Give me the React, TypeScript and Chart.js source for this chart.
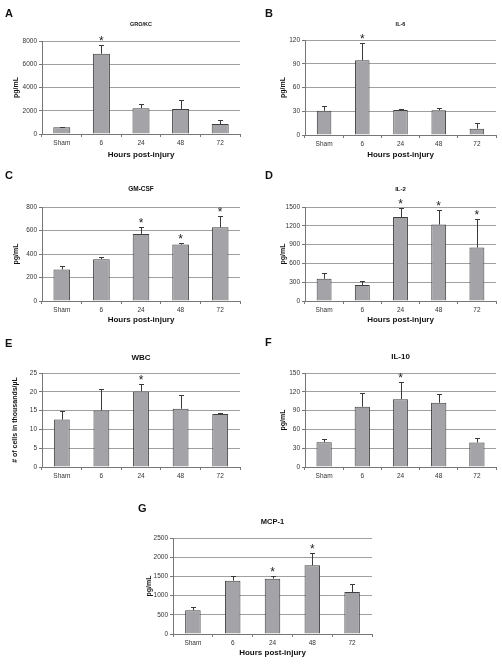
import React, { useEffect, useRef } from "react";
import { Chart, registerables } from "chart.js";
Chart.register(...registerables);

const FONT = '"Liberation Sans", Arial, Helvetica, sans-serif';
Chart.defaults.font.family = FONT;

// ---------- data ----------
const categories = ["Sham", "6", "24", "48", "72"];

const groKcValues = [590, 6900, 2220, 2140, 850];
const groKcErrors = [40, 730, 400, 790, 370];
const groKcStars = [1];

const il6Values = [30.7, 94.3, 31.6, 31.2, 8];
const il6Errors = [6.3, 21.5, 1.2, 2.5, 7.6];
const il6Stars = [1];

const gmCsfValues = [268, 356, 571, 480, 627];
const gmCsfErrors = [34, 20, 62, 17, 94];
const gmCsfStars = [2, 3, 4];

const il2Values = [355, 254, 1341, 1219, 853];
const il2Errors = [85, 59, 143, 238, 461];
const il2Stars = [2, 3, 4];

const wbcValues = [12.6, 15.0, 20.1, 15.5, 14.1];
const wbcErrors = [2.2, 5.7, 2.0, 3.6, 0.2];
const wbcStars = [2];

const il10Values = [39.6, 96.1, 108.3, 102.5, 39.1];
const il10Errors = [4.8, 21.2, 28, 13.7, 6.9];
const il10Stars = [2];

const mcp1Values = [616, 1389, 1441, 1788, 1094];
const mcp1Errors = [87, 130, 69, 330, 208];
const mcp1Stars = [2, 3];

const yMaxes = [8000, 120, 800, 1500, 25, 150, 2500];
const ySteps = [2000, 30, 200, 300, 5, 30, 500];

// ---------- panel layout ----------
type Panel = {
  letter: string;
  title: string;
  yTitle: string;
  xTitle: string | null;
  values: number[];
  errors: number[];
  stars: number[];
  yMax: number;
  yStep: number;
  canvas: { x: number; y: number; w: number; h: number };
  plot: { l: number; t: number; r: number; b: number };
  titleY: number;
  titleSize: number;
  letterPos: { x: number; y: number };
  yTitleX: number;
  xTitleY: number;
  barPct: number;
};

const panels: Panel[] = [
  {
    letter: "A", title: "GRO/KC", yTitle: "pg/mL", xTitle: "Hours post-injury",
    values: groKcValues, errors: groKcErrors, stars: groKcStars, yMax: yMaxes[0], yStep: ySteps[0],
    canvas: { x: 0, y: 0, w: 251, h: 160 }, plot: { l: 42, t: 41, r: 240, b: 134 },
    titleY: 24, titleSize: 5.5, letterPos: { x: 5, y: 17 }, yTitleX: 16, xTitleY: 155, barPct: 0.43,
  },
  {
    letter: "B", title: "IL-6", yTitle: "pg/mL", xTitle: "Hours post-injury",
    values: il6Values, errors: il6Errors, stars: il6Stars, yMax: yMaxes[1], yStep: ySteps[1],
    canvas: { x: 251, y: 0, w: 251, h: 160 }, plot: { l: 54, t: 40, r: 245, b: 135 },
    titleY: 24, titleSize: 5.5, letterPos: { x: 14, y: 17 }, yTitleX: 32.5, xTitleY: 155, barPct: 0.38,
  },
  {
    letter: "C", title: "GM-CSF", yTitle: "pg/mL", xTitle: "Hours post-injury",
    values: gmCsfValues, errors: gmCsfErrors, stars: gmCsfStars, yMax: yMaxes[2], yStep: ySteps[2],
    canvas: { x: 0, y: 160, w: 251, h: 168 }, plot: { l: 42, t: 47, r: 240, b: 141 },
    titleY: 29, titleSize: 6.5, letterPos: { x: 5, y: 19 }, yTitleX: 16, xTitleY: 160, barPct: 0.42,
  },
  {
    letter: "D", title: "IL-2", yTitle: "pg/mL", xTitle: "Hours post-injury",
    values: il2Values, errors: il2Errors, stars: il2Stars, yMax: yMaxes[3], yStep: ySteps[3],
    canvas: { x: 251, y: 160, w: 251, h: 168 }, plot: { l: 54, t: 47, r: 245, b: 141 },
    titleY: 29, titleSize: 6, letterPos: { x: 14, y: 19 }, yTitleX: 32, xTitleY: 160, barPct: 0.39,
  },
  {
    letter: "E", title: "WBC", yTitle: "# of cells in thousands/\u00b5L", xTitle: null,
    values: wbcValues, errors: wbcErrors, stars: wbcStars, yMax: yMaxes[4], yStep: ySteps[4],
    canvas: { x: 0, y: 320, w: 251, h: 165 }, plot: { l: 42, t: 53, r: 240, b: 147 },
    titleY: 38, titleSize: 8, letterPos: { x: 5, y: 27 }, yTitleX: 15.5, xTitleY: 0, barPct: 0.4,
  },
  {
    letter: "F", title: "IL-10", yTitle: "pg/mL", xTitle: null,
    values: il10Values, errors: il10Errors, stars: il10Stars, yMax: yMaxes[5], yStep: ySteps[5],
    canvas: { x: 251, y: 320, w: 251, h: 165 }, plot: { l: 54, t: 53, r: 245, b: 147 },
    titleY: 37, titleSize: 8, letterPos: { x: 14, y: 26 }, yTitleX: 32, xTitleY: 0, barPct: 0.4,
  },
  {
    letter: "G", title: "MCP-1", yTitle: "pg/mL", xTitle: "Hours post-injury",
    values: mcp1Values, errors: mcp1Errors, stars: mcp1Stars, yMax: yMaxes[6], yStep: ySteps[6],
    canvas: { x: 120, y: 490, w: 260, h: 174 }, plot: { l: 53, t: 48, r: 252, b: 144 },
    titleY: 32, titleSize: 7.5, letterPos: { x: 18, y: 22 }, yTitleX: 29, xTitleY: 163, barPct: 0.39,
  },
];

function makeDecor(p: Panel) {
  return {
    id: "decor" + p.letter,
    afterDatasetsDraw(chart: any) {
      const { ctx } = chart;
      const y = chart.scales.y;
      const meta = chart.getDatasetMeta(0);
      ctx.save();
      meta.data.forEach((bar: any, i: number) => {
        const x = Math.round(bar.x) + 0.5;
        const yBar = bar.y;
        const yTop = Math.round(y.getPixelForValue(p.values[i] + p.errors[i])) + 0.5;
        ctx.strokeStyle = "#3a3a3a";
        ctx.lineWidth = 1;
        ctx.beginPath();
        ctx.moveTo(x, yBar);
        ctx.lineTo(x, yTop);
        ctx.moveTo(x - 2.5, yTop);
        ctx.lineTo(x + 2.5, yTop);
        ctx.stroke();
        if (p.stars.includes(i)) {
          ctx.fillStyle = "#222";
          ctx.font = `12px ${FONT}`;
          ctx.textAlign = "center";
          ctx.textBaseline = "alphabetic";
          ctx.fillText("*", bar.x, yTop - 1);
        }
      });
      ctx.restore();
    },
    afterDraw(chart: any) {
      const { ctx, chartArea } = chart;
      ctx.save();
      ctx.fillStyle = "#111";
      ctx.font = `bold ${p.titleSize}px ${FONT}`;
      ctx.textAlign = "center";
      ctx.textBaseline = "middle";
      ctx.fillText(p.title, (chartArea.left + chartArea.right) / 2, p.titleY);
      ctx.font = `bold 11px ${FONT}`;
      ctx.textAlign = "left";
      ctx.textBaseline = "alphabetic";
      ctx.fillText(p.letter, p.letterPos.x, p.letterPos.y);
      ctx.restore();
    },
  };
}

function PanelChart({ p }: { p: Panel }) {
  const ref = useRef<HTMLCanvasElement | null>(null);
  useEffect(() => {
    if (!ref.current) return;
    const { w, h } = p.canvas;
    const xTitleSize = 8;
    const yTitleSize = 7;
    const xLh = xTitleSize * 1.2;
    const yLh = yTitleSize * 1.2;
    const chart = new Chart(ref.current, {
      type: "bar",
      data: {
        labels: categories,
        datasets: [
          {
            data: p.values,
            backgroundColor: "#a4a4a8",
            borderColor: "#3f3f3f",
            borderWidth: 1,
            barPercentage: p.barPct,
            categoryPercentage: 1,
          },
        ],
      },
      options: {
        responsive: false,
        animation: false,
        devicePixelRatio: 1,
        layout: { padding: { left: 0, top: p.plot.t, right: w - p.plot.r, bottom: 0 } },
        plugins: {
          legend: { display: false },
          title: { display: false },
          tooltip: { enabled: false },
        },
        scales: {
          x: {
            type: "category",
            offset: true,
            grid: {
              display: true,
              drawOnChartArea: false,
              drawTicks: true,
              tickLength: 3,
              offset: true,
              color: "#777",
            },
            border: { display: true, color: "#777" },
            ticks: {
              font: { family: FONT, size: 6.5 },
              color: "#333",
              padding: 2,
              maxRotation: 0,
              autoSkip: false,
            },
            title: {
              display: !!p.xTitle,
              text: p.xTitle || "",
              font: { family: FONT, size: xTitleSize, weight: "bold" },
              color: "#111",
              padding: { top: 0, bottom: Math.max(0, h - p.xTitleY - xLh / 2) },
            },
            afterFit: (s: any) => {
              s.height = h - p.plot.b;
            },
          },
          y: {
            min: 0,
            max: p.yMax,
            ticks: {
              stepSize: p.yStep,
              font: { family: FONT, size: 6.5 },
              color: "#333",
              padding: 2,
              callback: (v: any) => String(v),
            },
            grid: { color: "#a0a0a0", tickLength: 3, tickColor: "#777" },
            border: { display: true, color: "#777" },
            title: {
              display: true,
              text: p.yTitle,
              font: { family: FONT, size: yTitleSize, weight: "bold" },
              color: "#111",
              padding: { top: Math.max(0, p.yTitleX - yLh / 2), bottom: 0 },
            },
            afterFit: (s: any) => {
              s.width = p.plot.l;
            },
          },
        },
      } as any,
      plugins: [makeDecor(p)],
    });
    return () => chart.destroy();
  }, [p]);
  return (
    <canvas
      ref={ref}
      width={p.canvas.w}
      height={p.canvas.h}
      style={{
        position: "absolute",
        left: p.canvas.x,
        top: p.canvas.y,
        width: p.canvas.w,
        height: p.canvas.h,
      }}
    />
  );
}

export default function App() {
  return (
    <div
      style={{
        position: "absolute",
        left: 0,
        top: 0,
        width: 502,
        height: 664,
        background: "#fff",
        overflow: "hidden",
      }}
    >
      {panels.map((p) => (
        <PanelChart key={p.letter} p={p} />
      ))}
    </div>
  );
}
